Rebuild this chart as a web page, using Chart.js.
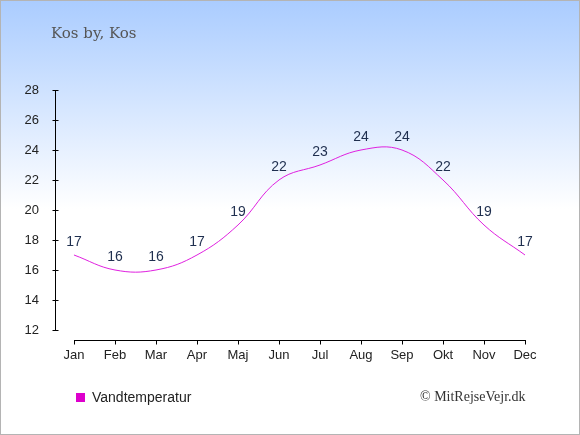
<!DOCTYPE html>
<html>
<head>
<meta charset="utf-8">
<script src="https://cdn.jsdelivr.net/npm/chart.js@4"></script>
<style>
html,body{margin:0;padding:0;background:#fff;}
#wrap{position:relative;width:580px;height:435px;overflow:hidden;}
canvas{position:absolute;left:0;top:0;}
.t{position:absolute;white-space:nowrap;}
#title{left:51px;top:24px;font-family:"DejaVu Serif","Liberation Serif",serif;font-size:15px;color:#555;}
#legend{left:76px;top:389px;font-family:"Liberation Sans",Arial,sans-serif;font-size:14px;color:#222;}
#legend span.box{display:inline-block;width:9px;height:9px;background:#dd00cc;margin-right:7px;vertical-align:-0px;}
#copy{left:420px;top:389px;font-family:"Liberation Serif","DejaVu Serif",serif;font-size:14px;color:#333;}
</style>
</head>
<body>
<div id="wrap">
<canvas id="c" width="580" height="435"></canvas>
<div class="t" id="title">Kos by, Kos</div>
<div class="t" id="legend"><span class="box"></span>Vandtemperatur</div>
<div class="t" id="copy">© MitRejseVejr.dk</div>
</div>
<script>
const months = ["Jan","Feb","Mar","Apr","Maj","Jun","Jul","Aug","Sep","Okt","Nov","Dec"];
const waterTemp = [17,16,16,17,19,22,23,24,24,22,19,17];
const yTicks = [12,14,16,18,20,22,24,26,28];

const bgPlugin = {
  id:'bg',
  beforeDraw(chart){
    const ctx = chart.ctx, w = chart.width, h = chart.height;
    const g = ctx.createLinearGradient(0,0,0,h);
    g.addColorStop(0,'#aaccff');
    g.addColorStop(0.48,'#ffffff');
    g.addColorStop(1,'#ffffff');
    ctx.save();
    ctx.fillStyle = g;
    ctx.fillRect(0,0,w,h);
    ctx.strokeStyle = '#b4b4b4';
    ctx.lineWidth = 1;
    ctx.strokeRect(0.5,0.5,w-1,h-1);
    ctx.restore();
  }
};

const axesPlugin = {
  id:'axesDraw',
  afterDraw(chart){
    const ctx = chart.ctx, xs = chart.scales.x, ys = chart.scales.y;
    ctx.save();
    ctx.strokeStyle = '#000';
    ctx.lineWidth = 1;
    const ax = Math.round(xs.left) + 0.5;
    const yTop = ys.getPixelForValue(yTicks[yTicks.length-1]);
    const yBot = ys.getPixelForValue(yTicks[0]);
    ctx.beginPath();
    ctx.moveTo(ax, Math.round(yTop)); ctx.lineTo(ax, Math.round(yBot)+1);
    yTicks.forEach(v=>{
      const py = Math.round(ys.getPixelForValue(v))+0.5;
      ctx.moveTo(ax-3, py); ctx.lineTo(ax+3, py);
    });
    ctx.stroke();
    const by = Math.round(ys.bottom) + 0.5;
    const x0 = xs.getPixelForValue(0), x1 = xs.getPixelForValue(months.length-1);
    ctx.beginPath();
    ctx.moveTo(Math.round(x0), by); ctx.lineTo(Math.round(x1)+1, by);
    months.forEach((m,i)=>{
      const px = Math.round(xs.getPixelForValue(i))+0.5;
      ctx.moveTo(px, by); ctx.lineTo(px, by+4);
    });
    ctx.stroke();
    const meta = chart.getDatasetMeta(0);
    ctx.fillStyle = '#1f2f4f';
    ctx.font = '14px "Liberation Sans", Arial, sans-serif';
    ctx.textAlign = 'center';
    ctx.textBaseline = 'middle';
    meta.data.forEach((pt,i)=>{
      ctx.fillText(String(waterTemp[i]), pt.x, pt.y - 13);
    });
    ctx.restore();
  }
};

new Chart(document.getElementById('c'), {
  type:'line',
  data:{
    datasets:[{
      label:'Vandtemperatur',
      data: waterTemp.map((v,i)=>({x:i,y:v})),
      borderColor:'#e020e0',
      borderWidth:1,
      pointRadius:0,
      tension:0.4,
      fill:false
    }]
  },
  options:{
    responsive:false,
    animation:false,
    devicePixelRatio:1,
    layout:{padding:{left:0,right:55,top:90,bottom:0}},
    plugins:{legend:{display:false},title:{display:false},tooltip:{enabled:false}},
    scales:{
      x:{
        type:'linear',
        min:-0.463,
        max:11,
        afterBuildTicks(s){ s.ticks = months.map((m,i)=>({value:i})); },
        afterFit(s){ s.height = 95; },
        grid:{display:false},
        border:{display:false},
        ticks:{
          callback:(v)=>months[v],
          color:'#222',
          font:{family:'"Liberation Sans", Arial, sans-serif',size:13},
          padding:0,
          maxRotation:0,
          autoSkip:false
        }
      },
      y:{
        min:11.333,
        max:28,
        afterBuildTicks(s){ s.ticks = yTicks.map(v=>({value:v})); },
        afterFit(s){ s.width = 55; },
        grid:{display:false},
        border:{display:false},
        ticks:{
          color:'#222',
          font:{family:'"Liberation Sans", Arial, sans-serif',size:13},
          padding:8
        }
      }
    }
  },
  plugins:[bgPlugin, axesPlugin]
});
</script>
</body>
</html>
